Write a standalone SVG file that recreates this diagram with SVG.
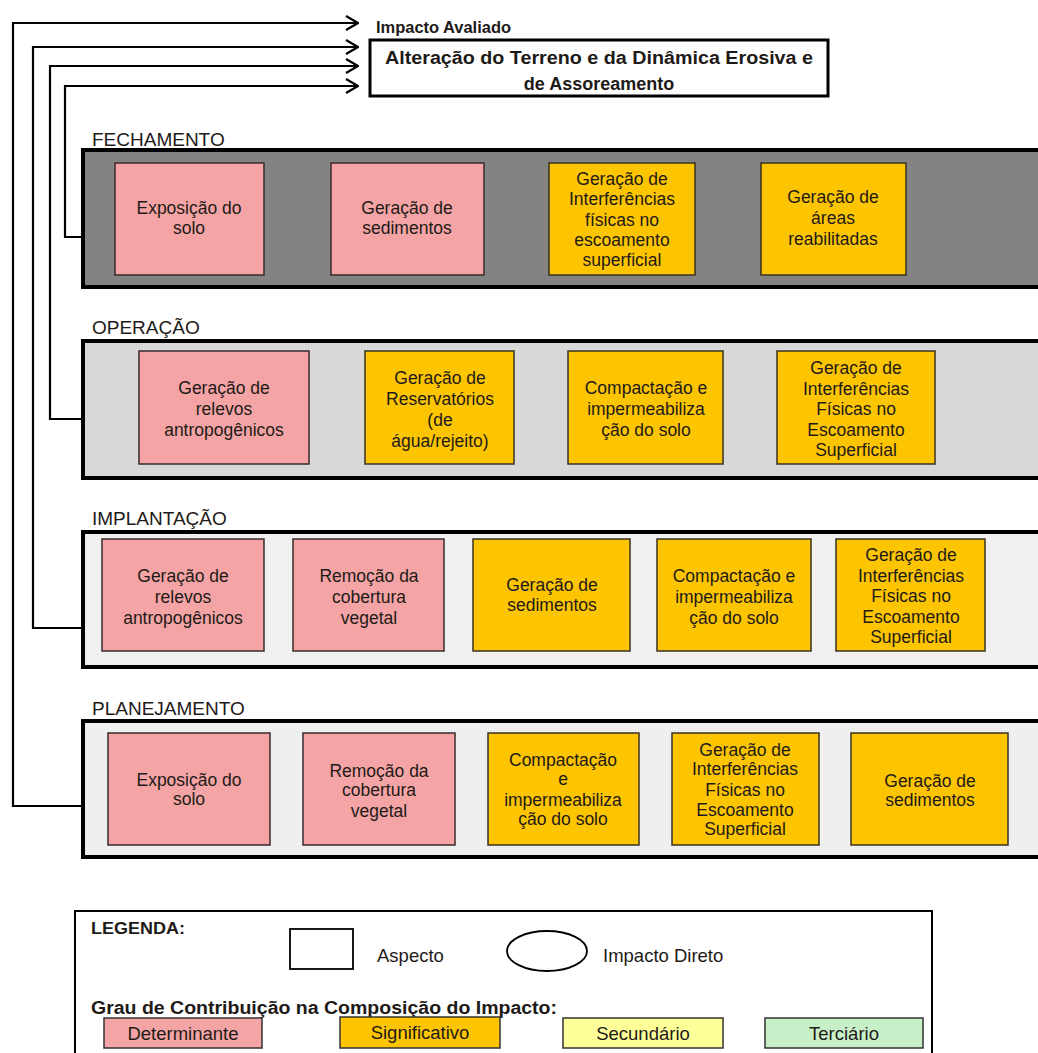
<svg xmlns="http://www.w3.org/2000/svg" width="1038" height="1053" viewBox="0 0 1038 1053">
  <style>
    text { font-family: "Liberation Sans", Arial, sans-serif; fill: #1e1a18; }
    .box { font-size: 17.5px; text-anchor: middle; }
    .phase { font-size: 19px; }
    .lg { font-size: 18.5px; }
    .bold { font-weight: bold; }
    .panel { stroke: #000; stroke-width: 4; }
    .det { fill: #f4a4a4; stroke: #3a2a2a; stroke-width: 1.5; }
    .sig { fill: #fdc400; stroke: #3a3020; stroke-width: 1.5; }
    .conn { fill: none; stroke: #000; stroke-width: 2.2; }
  </style>
  <defs>
    <marker id="open" viewBox="0 0 14 16" refX="13" refY="8" markerWidth="14" markerHeight="16" markerUnits="userSpaceOnUse" orient="auto">
      <path d="M1,1 L13,8 L1,15" fill="none" stroke="#000" stroke-width="2.2"/>
    </marker>
  </defs>
  <rect width="1038" height="1053" fill="#fff"/>

  <!-- impact header -->
  <g id="impacto">
    <text x="376" y="33" class="bold" font-size="16.5" textLength="135" lengthAdjust="spacingAndGlyphs">Impacto Avaliado</text>
    <rect x="370" y="40" width="458" height="56" fill="#fff" stroke="#000" stroke-width="3"/>
    <text x="599" y="64" class="bold" font-size="18" text-anchor="middle" textLength="428" lengthAdjust="spacingAndGlyphs">Alteração do Terreno e da Dinâmica Erosiva e</text>
    <text x="599" y="90" class="bold" font-size="18" text-anchor="middle">de Assoreamento</text>
  </g>

  <!-- connectors from each phase to the impact -->
  <g id="connectors">
    <path class="conn" d="M83,806 H13 V23 H358" marker-end="url(#open)"/>
    <path class="conn" d="M83,628 H33 V47 H358" marker-end="url(#open)"/>
    <path class="conn" d="M83,419 H50 V66 H358" marker-end="url(#open)"/>
    <path class="conn" d="M83,237 H65 V86 H358" marker-end="url(#open)"/>
  </g>

  <!-- FECHAMENTO -->
  <g id="fechamento">
    <text x="92" y="146" class="phase">FECHAMENTO</text>
    <rect class="panel" x="83" y="150" width="965" height="137" fill="#838383"/>
    <g id="f1"><rect class="det" x="115" y="163" width="149" height="112"/>
      <text class="box" x="189" y="214">Exposição do<tspan x="189" dy="20">solo</tspan></text></g>
    <g id="f2"><rect class="det" x="331" y="163" width="153" height="112"/>
      <text class="box" x="407" y="214">Geração de<tspan x="407" dy="20">sedimentos</tspan></text></g>
    <g id="f3"><rect class="sig" x="549" y="163" width="146" height="112"/>
      <text class="box" x="622" y="185">Geração de<tspan x="622" dy="20">Interferências</tspan><tspan x="622" dy="20.5">físicas no</tspan><tspan x="622" dy="20">escoamento</tspan><tspan x="622" dy="20">superficial</tspan></text></g>
    <g id="f4"><rect class="sig" x="761" y="163" width="145" height="112"/>
      <text class="box" x="833" y="203">Geração de<tspan x="833" dy="21">áreas</tspan><tspan x="833" dy="21">reabilitadas</tspan></text></g>
  </g>

  <!-- OPERAÇÃO -->
  <g id="operacao">
    <text x="92" y="334" class="phase">OPERAÇÃO</text>
    <rect class="panel" x="83" y="341" width="965" height="137" fill="#d8d8d8"/>
    <g id="o1"><rect class="det" x="139" y="351" width="170" height="113"/>
      <text class="box" x="224" y="394">Geração de<tspan x="224" dy="21">relevos</tspan><tspan x="224" dy="21">antropogênicos</tspan></text></g>
    <g id="o2"><rect class="sig" x="365" y="351" width="149" height="113"/>
      <text class="box" x="440" y="384">Geração de<tspan x="440" dy="21">Reservatórios</tspan><tspan x="440" dy="21">(de</tspan><tspan x="440" dy="21">água/rejeito)</tspan></text></g>
    <g id="o3"><rect class="sig" x="568" y="351" width="155" height="113"/>
      <text class="box" x="646" y="394">Compactação e<tspan x="646" dy="21">impermeabiliza</tspan><tspan x="646" dy="21">ção do solo</tspan></text></g>
    <g id="o4"><rect class="sig" x="777" y="351" width="158" height="113"/>
      <text class="box" x="856" y="374">Geração de<tspan x="856" dy="20.5">Interferências</tspan><tspan x="856" dy="20.5">Físicas no</tspan><tspan x="856" dy="20.5">Escoamento</tspan><tspan x="856" dy="20.5">Superficial</tspan></text></g>
  </g>

  <!-- IMPLANTAÇÃO -->
  <g id="implantacao">
    <text x="92" y="525" class="phase">IMPLANTAÇÃO</text>
    <rect class="panel" x="83" y="532" width="965" height="135" fill="#f0f0f0"/>
    <g id="i1"><rect class="det" x="102" y="539" width="162" height="112"/>
      <text class="box" x="183" y="582">Geração de<tspan x="183" dy="21">relevos</tspan><tspan x="183" dy="21">antropogênicos</tspan></text></g>
    <g id="i2"><rect class="det" x="293" y="539" width="151" height="112"/>
      <text class="box" x="369" y="582">Remoção da<tspan x="369" dy="21">cobertura</tspan><tspan x="369" dy="21">vegetal</tspan></text></g>
    <g id="i3"><rect class="sig" x="473" y="539" width="157" height="112"/>
      <text class="box" x="552" y="591">Geração de<tspan x="552" dy="20">sedimentos</tspan></text></g>
    <g id="i4"><rect class="sig" x="657" y="539" width="154" height="112"/>
      <text class="box" x="734" y="582">Compactação e<tspan x="734" dy="21">impermeabiliza</tspan><tspan x="734" dy="21">ção do solo</tspan></text></g>
    <g id="i5"><rect class="sig" x="836" y="539" width="149" height="112"/>
      <text class="box" x="911" y="561">Geração de<tspan x="911" dy="20.5">Interferências</tspan><tspan x="911" dy="20.5">Físicas no</tspan><tspan x="911" dy="20.5">Escoamento</tspan><tspan x="911" dy="20.5">Superficial</tspan></text></g>
  </g>

  <!-- PLANEJAMENTO -->
  <g id="planejamento">
    <text x="92" y="715" class="phase">PLANEJAMENTO</text>
    <rect class="panel" x="83" y="721" width="965" height="136" fill="#efefef"/>
    <g id="p1"><rect class="det" x="108" y="733" width="162" height="112"/>
      <text class="box" x="189" y="786">Exposição do<tspan x="189" dy="19">solo</tspan></text></g>
    <g id="p2"><rect class="det" x="303" y="733" width="152" height="112"/>
      <text class="box" x="379" y="777">Remoção da<tspan x="379" dy="19">cobertura</tspan><tspan x="379" dy="21">vegetal</tspan></text></g>
    <g id="p3"><rect class="sig" x="488" y="733" width="151" height="112"/>
      <text class="box" x="563" y="766">Compactação<tspan x="563" dy="19">e</tspan><tspan x="563" dy="21">impermeabiliza</tspan><tspan x="563" dy="19">ção do solo</tspan></text></g>
    <g id="p4"><rect class="sig" x="672" y="733" width="147" height="112"/>
      <text class="box" x="745" y="756">Geração de<tspan x="745" dy="19">Interferências</tspan><tspan x="745" dy="21">Físicas no</tspan><tspan x="745" dy="20">Escoamento</tspan><tspan x="745" dy="19">Superficial</tspan></text></g>
    <g id="p5"><rect class="sig" x="851" y="733" width="157" height="112"/>
      <text class="box" x="930" y="787">Geração de<tspan x="930" dy="19">sedimentos</tspan></text></g>
  </g>

  <!-- legend -->
  <g id="legenda">
    <rect x="75" y="911" width="857" height="150" fill="#fff" stroke="#000" stroke-width="2"/>
    <text x="91" y="934" class="bold" font-size="17" textLength="94" lengthAdjust="spacingAndGlyphs">LEGENDA:</text>
    <rect x="290" y="929" width="63" height="40" fill="#fff" stroke="#000" stroke-width="1.8"/>
    <text x="377" y="962" class="lg">Aspecto</text>
    <ellipse cx="547" cy="951" rx="40" ry="20" fill="#fff" stroke="#000" stroke-width="1.8"/>
    <text x="603" y="962" class="lg">Impacto Direto</text>
    <text x="91" y="1014" class="bold" font-size="18" textLength="466" lengthAdjust="spacingAndGlyphs">Grau de Contribuição na Composição do Impacto:</text>
    <rect x="104" y="1018" width="158" height="30" fill="#f4a4a4" stroke="#333" stroke-width="1.5"/>
    <text x="183" y="1040" class="lg" text-anchor="middle">Determinante</text>
    <rect x="340" y="1017" width="160" height="31" fill="#fdc400" stroke="#333" stroke-width="1.5"/>
    <text x="420" y="1039" class="lg" text-anchor="middle">Significativo</text>
    <rect x="563" y="1018" width="160" height="30" fill="#ffff99" stroke="#333" stroke-width="1.5"/>
    <text x="643" y="1040" class="lg" text-anchor="middle">Secundário</text>
    <rect x="765" y="1018" width="158" height="30" fill="#c8f0c8" stroke="#333" stroke-width="1.5"/>
    <text x="844" y="1040" class="lg" text-anchor="middle">Terciário</text>
  </g>
</svg>
